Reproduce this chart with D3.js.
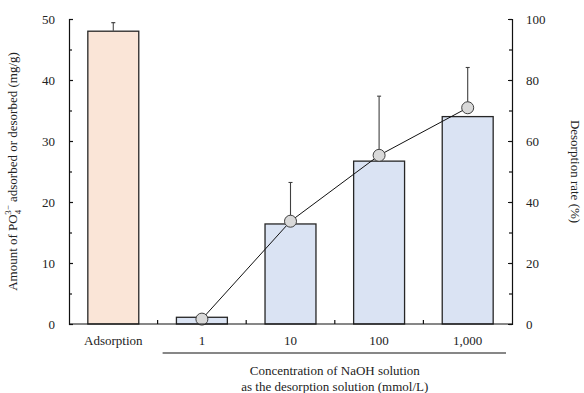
<!DOCTYPE html>
<html>
<head>
<meta charset="utf-8">
<script src="https://cdn.jsdelivr.net/npm/d3@7"></script>
<style>
  body { margin: 0; background: #fff; }
  svg, svg text { font-family: "Liberation Serif", "Times New Roman", Times, "DejaVu Serif", serif; }
  svg text { fill: #222; }
</style>
</head>
<body>
<div id="chart"></div>
<script>
// categories and series
const categories = ['Adsorption', '1', '10', '100', '1,000'];
const amount = [48.0, 1.1, 16.4, 26.7, 34.0];      // mg/g, left axis
const amountErr = [1.4, 0, 0, 0, 0];
const rate = [null, 1.6, 33.7, 55.3, 70.9];         // %, right axis
const rateErr = [null, 0, 12.7, 19.4, 13.2];
const leftTicks = [0, 10, 20, 30, 40, 50];
const rightTicks = [0, 20, 40, 60, 80, 100];

const FONT = '"Liberation Serif", "Times New Roman", Times, "DejaVu Serif", serif';

const config = {
  width: 584, height: 393,
  margin: {top: 19, right: 72, bottom: 69, left: 69}
};
const innerW = config.width - config.margin.left - config.margin.right;
const innerH = config.height - config.margin.top - config.margin.bottom;

const svg = d3.select('#chart').append('svg')
  .attr('width', config.width)
  .attr('height', config.height)
  .attr('font-family', FONT);

const chart = svg.append('g')
  .attr('transform', `translate(${config.margin.left},${config.margin.top})`);

const x = d3.scaleBand().domain(categories).range([0, innerW]).paddingInner(0.425).paddingOuter(0.2125);
const xOuter = d3.scaleBand().domain(categories).range([0, innerW]);
const yL = d3.scaleLinear().domain([0, 50]).range([innerH, 0]);
const yR = d3.scaleLinear().domain([0, 100]).range([innerH, 0]);

// bars
chart.selectAll('.bar')
  .data(categories)
  .join('rect')
  .attr('class', 'bar')
  .attr('x', d => x(d))
  .attr('width', x.bandwidth())
  .attr('y', (d, i) => yL(amount[i]))
  .attr('height', (d, i) => innerH - yL(amount[i]))
  .attr('fill', (d, i) => i === 0 ? '#fae5d7' : '#dae3f3')
  .attr('stroke', '#262626')
  .attr('stroke-width', 1.3);

// bar error bars (upper only)
categories.forEach((c, i) => {
  if (!amountErr[i]) return;
  const cx = x(c) + x.bandwidth() / 2;
  chart.append('line').attr('x1', cx).attr('x2', cx)
    .attr('y1', yL(amount[i])).attr('y2', yL(amount[i] + amountErr[i]))
    .attr('stroke', '#595959').attr('stroke-width', 1.2);
  chart.append('line').attr('x1', cx - 2).attr('x2', cx + 2)
    .attr('y1', yL(amount[i] + amountErr[i])).attr('y2', yL(amount[i] + amountErr[i]))
    .attr('stroke', '#404040').attr('stroke-width', 1.2);
});

// desorption rate line
const pts = categories.map((c, i) => ({c, v: rate[i], e: rateErr[i]})).filter(d => d.v !== null);
const cxOf = d => x(d.c) + x.bandwidth() / 2;

pts.forEach(d => {
  if (!d.e) return;
  chart.append('line').attr('x1', cxOf(d)).attr('x2', cxOf(d))
    .attr('y1', yR(d.v)).attr('y2', yR(d.v + d.e))
    .attr('stroke', '#404040').attr('stroke-width', 1.1);
  chart.append('line').attr('x1', cxOf(d) - 2).attr('x2', cxOf(d) + 2)
    .attr('y1', yR(d.v + d.e)).attr('y2', yR(d.v + d.e))
    .attr('stroke', '#404040').attr('stroke-width', 1.1);
});

chart.append('path')
  .datum(pts)
  .attr('fill', 'none')
  .attr('stroke', '#111')
  .attr('stroke-width', 1)
  .attr('d', d3.line().x(cxOf).y(d => yR(d.v)));

chart.selectAll('.pt')
  .data(pts)
  .join('circle')
  .attr('class', 'pt')
  .attr('cx', cxOf)
  .attr('cy', d => yR(d.v))
  .attr('r', 6)
  .attr('fill', '#d9d9d9')
  .attr('stroke', '#404040')
  .attr('stroke-width', 1);

// axes
const axisStyle = g => {
  g.attr('font-family', FONT);
  g.selectAll('path, line').attr('stroke', '#111').attr('stroke-width', 1.2);
  g.selectAll('text').attr('font-size', 13).attr('fill', '#222');
};

// left axis: major + minor ticks pointing inward
chart.append('g')
  .call(d3.axisLeft(yL).tickValues(leftTicks).tickSizeInner(-4).tickSizeOuter(-4).tickPadding(14))
  .call(axisStyle);
chart.append('g')
  .call(d3.axisLeft(yL).tickValues(leftTicks.slice(0, -1).map(v => v + 5)).tickSize(-3).tickFormat(''))
  .call(g => g.select('.domain').remove())
  .call(axisStyle);

chart.append('g')
  .attr('transform', `translate(${innerW},0)`)
  .call(d3.axisRight(yR).tickValues(rightTicks).tickSizeInner(-4).tickSizeOuter(-4).tickPadding(14))
  .call(axisStyle);
chart.append('g')
  .attr('transform', `translate(${innerW},0)`)
  .call(d3.axisRight(yR).tickValues(rightTicks.slice(0, -1).map(v => v + 10)).tickSize(-3).tickFormat(''))
  .call(g => g.select('.domain').remove())
  .call(axisStyle);

// bottom axis: line with upward ticks on category boundaries
chart.append('line')
  .attr('x1', 0).attr('x2', innerW).attr('y1', innerH).attr('y2', innerH)
  .attr('stroke', '#111').attr('stroke-width', 1.2);
chart.selectAll('.xtick')
  .data(categories.slice(1))
  .join('line')
  .attr('class', 'xtick')
  .attr('x1', d => xOuter(d)).attr('x2', d => xOuter(d))
  .attr('y1', innerH).attr('y2', innerH - 4)
  .attr('stroke', '#111').attr('stroke-width', 1.2);
chart.selectAll('.xlabel')
  .data(categories)
  .join('text')
  .attr('class', 'xlabel')
  .attr('x', d => x(d) + x.bandwidth() / 2)
  .attr('y', innerH + 21)
  .attr('text-anchor', 'middle')
  .attr('font-size', 13)
  .text(d => d);

// bracket line under the NaOH categories
chart.append('line')
  .attr('x1', xOuter(categories[1]) + 5)
  .attr('x2', innerW - 6)
  .attr('y1', innerH + 29).attr('y2', innerH + 29)
  .attr('stroke', '#111').attr('stroke-width', 1.2);

const groupCenter = (xOuter(categories[1]) + innerW) / 2;
const xTitle = chart.append('text')
  .attr('text-anchor', 'middle')
  .attr('font-size', 13)
  .attr('x', groupCenter);
xTitle.append('tspan').attr('x', groupCenter).attr('y', innerH + 51).text('Concentration of NaOH solution');
xTitle.append('tspan').attr('x', groupCenter).attr('y', innerH + 67).text('as the desorption solution (mmol/L)');

// y titles
const yTitle = svg.append('text')
  .attr('transform', `translate(17,${config.margin.top + innerH / 2}) rotate(-90)`)
  .attr('text-anchor', 'middle')
  .attr('font-size', 13);
yTitle.append('tspan').text('Amount of PO');
yTitle.append('tspan').attr('font-size', 9).attr('dy', 4).text('4');
yTitle.append('tspan').attr('font-size', 9).attr('dy', -10).attr('dx', -5).text('3−');
yTitle.append('tspan').attr('dy', 6).text(' adsorbed or desorbed (mg/g)');

svg.append('text')
  .attr('transform', `translate(571,${config.margin.top + innerH / 2}) rotate(90)`)
  .attr('text-anchor', 'middle')
  .attr('font-size', 13)
  .text('Desorption rate (%)');
</script>
</body>
</html>
